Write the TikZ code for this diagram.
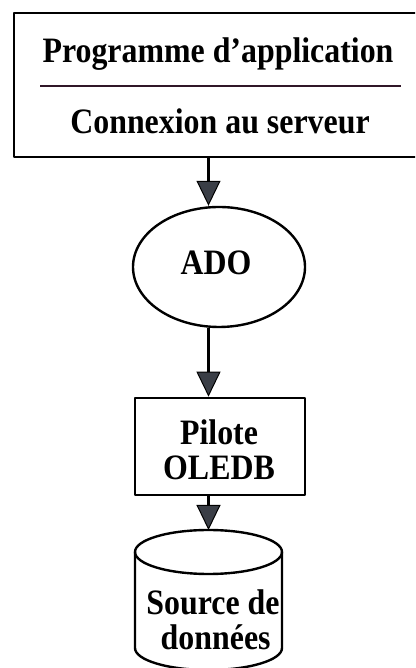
\documentclass[tikz,border=0pt]{standalone}
\usepackage{fontspec}
\setmainfont{Liberation Serif}
\usetikzlibrary{arrows.meta,shapes.geometric}
\definecolor{tipgray}{RGB}{58,62,70}
\definecolor{rulecol}{RGB}{48,22,40}
\tikzset{
  lbl/.style={font=\fontsize{32}{31}\selectfont\bfseries,inner sep=0pt,align=center,yscale=1.12},
  flow/.style={line width=2.4bp,-{Triangle[length=25bp,width=24bp,line width=1bp,fill=tipgray]}}
}

\begin{document}
\begin{tikzpicture}[line join=round,x=1bp,y=1bp]
\useasboundingbox (0,0) rectangle (415,668);
\clip (0,0) rectangle (415,668);
% application box, open on the right side
\node[draw,line width=2.8bp,minimum width=403bp,minimum height=144bp,inner sep=0pt] (app) at (215.5,583) {};
\node[lbl] (prog) at (218,614) {Programme d'application};
\draw[line width=2.6bp,rulecol] (40,582) -- (401,582);
\node[lbl] (conn) at (220,547) {Connexion au serveur};
% ADO
\node[draw,ellipse,line width=2.4bp,minimum width=172bp,minimum height=120bp,inner sep=0pt] (ado) at (219,401) {};
\node[lbl] (adotxt) at (216,405) {ADO};
% driver
\node[draw,line width=2.6bp,minimum width=170bp,minimum height=97bp,inner sep=0pt] (pilote) at (220,221.5) {};
\node[lbl] (pilotetxt) at (219,218) {Pilote\\OLEDB};
% data source
\coordinate (dbtop) at (208.5,138);
\draw[line width=2.4bp] (208.5,116) ellipse [x radius=73.5, y radius=22];
\draw[line width=2.4bp] (135,116) -- (135,20) arc[start angle=180,end angle=360,x radius=73.5,y radius=22] -- (282,116);
\node[lbl] (db) at (213,48) {Source de\\\,données};
% arrows
\draw[flow] (app.south -| dbtop) -- (ado.north -| dbtop);
\draw[flow] (ado.south -| dbtop) -- (pilote.north -| dbtop);
\draw[flow] (pilote.south -| dbtop) -- (dbtop);
\end{tikzpicture}
\end{document}
